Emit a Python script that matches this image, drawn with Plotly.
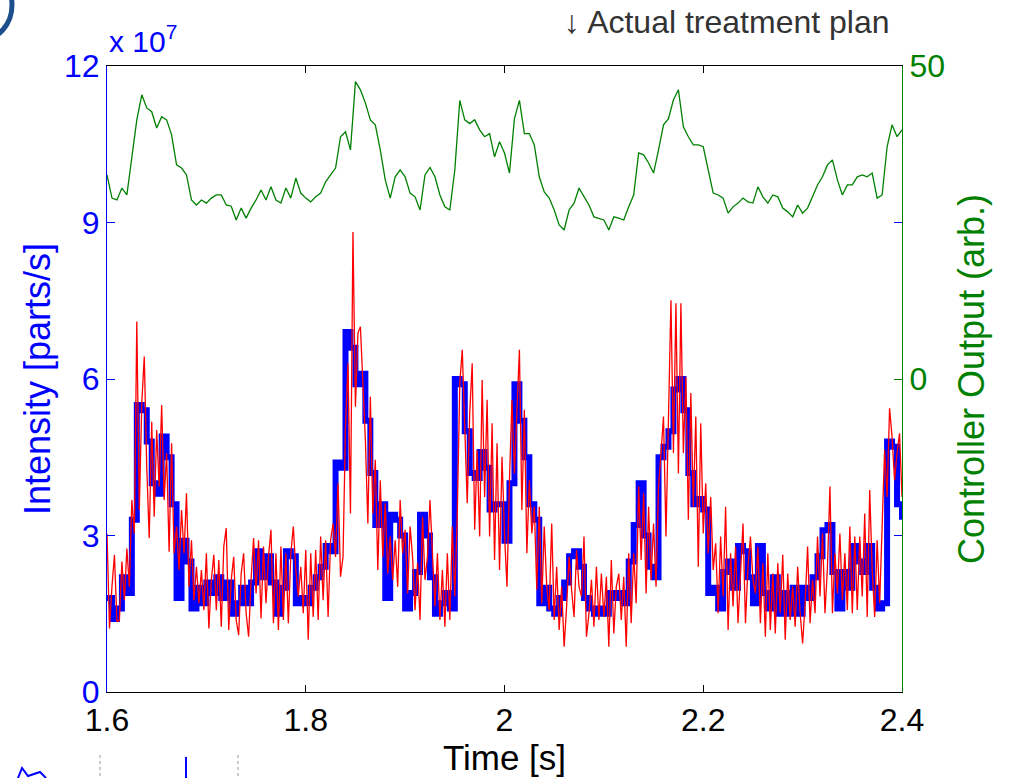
import numpy as np
import plotly.graph_objects as go

# ---------------- data ----------------
t_start = 1.6
dt_blue = 0.005   # s between intensity-plan steps
dt_red = 0.0025   # s between measured samples
dt_green = 0.005  # s between controller samples

# planned intensity, units of 1e7 parts/s
blue_intensity = [
    1.8, 1.4, 1.6, 2.2, 1.9, 3.3, 5.5, 5.4, 4.8, 4.0, 3.8, 4.9, 4.5, 3.6, 1.8, 2.9, 2.5,
    1.6, 2.0, 1.7, 2.1, 1.9, 2.2, 1.8, 2.1, 1.5, 1.7, 2.0, 1.7, 2.1, 2.7, 2.2, 2.6,
    2.1, 1.5, 2.0, 2.7, 2.6, 1.7, 1.8, 1.7, 2.0, 2.2, 2.4, 2.8, 2.7, 4.4, 4.3, 6.9,
    6.6, 5.9, 6.1, 5.2, 4.2, 3.2, 3.6, 1.8, 3.4, 3.3, 3.0, 1.6, 1.9, 2.3, 3.4, 3.0, 2.2,
    1.5, 1.7, 1.9, 1.6, 6.0, 5.9, 5.0, 4.2, 4.1, 4.6, 4.3, 3.5, 3.6, 3.6, 2.9, 4.0,
    5.9, 5.2, 4.5, 3.6, 3.3, 1.7, 2.0, 1.6, 1.5, 1.8, 2.1, 2.6, 2.7, 2.4, 1.8, 1.6, 1.5, 1.6,
    1.5, 1.9, 1.8, 1.9, 1.7, 2.5, 3.2, 4.0, 3.0, 2.4, 2.2, 4.5, 4.7, 5.0, 5.8, 6.0,
    5.4, 4.2, 3.6, 3.7, 3.5, 1.9, 2.0, 1.6, 2.3, 2.5, 2.0, 2.8, 2.7, 2.2, 1.7, 2.8, 1.9,
    1.6, 2.2, 1.5, 1.9, 1.5, 2.0, 1.5, 2.0, 1.8, 2.2, 2.6, 3.1, 3.2, 2.3, 1.6, 2.3,
    2.0, 2.8, 2.5, 2.3, 2.8, 2.0, 1.6, 1.7, 4.8, 4.7, 3.6, 3.3,
]

# measured intensity, units of 1e7 parts/s
red_intensity = [
    3.04, 1.22, 2.02, 2.63, 1.35, 1.38, 2.50, 1.76, 2.75, 2.02,
    3.68, 3.04, 7.10, 3.49, 5.53, 6.43, 4.32, 2.95, 5.18, 3.36,
    5.02, 3.94, 5.50, 3.68, 4.58, 2.69, 4.77, 2.66, 3.17, 2.34,
    3.49, 2.66, 3.81, 2.02, 2.91, 1.76, 2.40, 1.70, 2.34, 1.57,
    2.66, 1.22, 2.15, 2.63, 1.57, 2.53, 1.25, 2.79, 3.14, 1.19,
    2.15, 2.59, 1.38, 1.09, 2.27, 2.66, 1.51, 1.06, 2.15, 2.95,
    1.89, 2.91, 1.41, 2.79, 1.70, 2.59,
    3.11, 1.32, 2.66, 1.19, 2.79, 1.38, 2.66, 1.32, 2.66, 3.17,
    2.34, 1.83, 2.40, 1.51, 2.72, 1.00, 2.66, 1.44, 2.72, 1.38,
    2.98, 1.76, 2.91, 1.44, 2.91, 3.23, 2.59, 4.00, 2.21, 2.59,
    5.09, 6.30, 3.42, 8.82, 5.47, 6.88, 7.00, 5.79, 4.83, 3.23,
    5.66, 3.42, 4.45, 2.34, 4.06, 2.59, 3.62, 2.27, 2.98, 2.15,
    2.91, 2.02, 3.68, 2.66, 3.11, 1.89, 3.17, 2.59, 1.57, 2.47,
    1.38, 3.36, 2.15, 2.59, 3.68, 2.66,
    1.64, 2.66, 1.38, 2.34, 1.25, 2.66, 1.38, 3.17, 1.83, 3.42,
    5.92, 6.56, 5.09, 3.62, 5.34, 6.30, 3.11, 4.64, 2.98, 5.98,
    3.74, 5.60, 2.98, 5.15, 2.53, 4.77, 2.34, 4.51, 3.04, 2.02,
    4.06, 5.60, 4.19, 5.47, 6.56, 3.49, 5.41, 2.66, 4.06, 3.04,
    3.55, 1.96, 3.55, 1.70, 3.17, 2.02, 1.57, 3.23, 1.38, 2.40,
    1.19, 2.02, 0.87, 1.64, 2.59, 1.96, 1.44, 2.72, 2.02, 1.83,
    2.98, 1.06, 1.51, 2.15, 1.25, 2.40, 1.38,
    2.27, 1.44, 2.21, 0.87, 2.53, 1.12, 2.02, 2.27, 1.38, 2.21,
    0.87, 2.66, 1.32, 2.66, 1.70, 3.94, 2.53, 3.81, 1.89, 3.55,
    2.15, 3.23, 2.02, 3.94, 4.58, 5.28, 2.98, 5.22, 7.51, 4.58,
    7.45, 4.19, 7.45, 4.58, 6.04, 3.30, 5.73, 3.55, 5.28, 2.40,
    5.15, 3.04, 4.00, 2.66, 3.74, 2.34, 2.85, 1.51, 2.98, 1.83,
    3.55, 1.19, 2.66, 1.64, 2.79, 1.32, 2.40, 3.23, 1.32, 2.40,
    2.98, 2.15, 1.89, 2.79, 1.32, 2.47,
    1.06, 2.66, 1.19, 2.27, 1.12, 2.47, 1.51, 2.63, 1.00, 2.27,
    1.38, 2.02, 1.25, 2.40, 1.51, 0.93, 1.70, 2.79, 1.32, 2.15,
    1.51, 2.98, 1.83, 3.04, 1.51, 2.40, 3.94, 1.51, 2.66, 1.89,
    3.04, 1.76, 2.66, 1.57, 3.17, 1.51, 2.98, 1.57, 2.98, 1.83,
    3.42, 1.44, 3.87, 2.34, 1.44, 2.91, 1.70, 3.30, 4.64, 3.74,
    5.44, 4.89, 4.06, 4.58, 4.96, 3.74,
]

# controller output (arb.)
green_output = [
    32.6, 28.9, 28.6, 30.5, 29.4, 35.0, 41.4, 45.4, 43.3, 42.7, 40.1, 41.9, 41.4, 39.0,
    34.2, 33.7, 32.6, 28.6, 27.8, 28.6, 28.1, 28.9, 29.4, 29.4, 27.8, 27.6, 25.4, 27.3,
    25.7, 27.3, 28.6, 30.2, 28.6,
    30.7, 28.6, 28.1, 30.5, 28.9, 32.1, 29.7, 28.9, 28.3, 29.1, 29.7, 31.5, 32.6, 33.7,
    38.7, 39.5, 36.6, 47.5, 46.2, 44.1, 41.4, 40.6, 36.6, 31.8, 28.9, 32.3, 33.4, 32.3,
    29.7, 29.1, 27.0, 32.6, 33.8,
    32.3, 29.4, 27.5, 27.0, 33.4, 44.5, 41.4, 40.8, 41.4, 39.8, 38.7, 39.2, 35.5, 37.9,
    36.1, 32.9, 41.6, 44.5, 39.2, 39.2, 37.4, 32.3, 29.9, 28.9, 27.0, 24.6, 23.8, 27.0,
    28.1, 30.5, 29.1, 27.8, 25.9, 25.6,
    25.4, 23.8, 25.9, 25.7, 25.4, 27.5, 29.4, 36.1, 35.8, 34.5, 32.9, 36.6, 40.6, 41.6,
    44.6, 46.2, 40.3, 38.7, 37.4, 37.4, 37.1, 33.4, 29.7, 29.4, 28.9, 26.5, 27.5, 28.1,
    28.9, 28.3, 28.1, 30.7, 29.1,
    28.1, 29.4, 29.1, 27.3, 26.7, 25.9, 27.8, 26.5, 27.3, 29.1, 31.0, 32.3, 34.2, 35.0,
    31.8, 29.4, 31.0, 31.0, 32.3, 32.6, 32.3, 32.9, 28.9, 29.4, 37.1, 40.6, 38.7, 39.8,
]

x_tick_vals = [1.6, 1.8, 2.0, 2.2, 2.4]
x_tick_text = ["1.6", "1.8", "2", "2.2", "2.4"]
y_tick_vals = [0, 3, 6, 9, 12]
y_tick_text = ["0", "3", "6", "9", "12"]
y2_tick_vals = [0, 50]
y2_tick_text = ["0", "50"]

t_blue = t_start + dt_blue * np.arange(len(blue_intensity))
t_red = t_start + dt_red * np.arange(len(red_intensity))
t_green = t_start + dt_green * np.arange(len(green_output))

# ---------------- figure ----------------
BLUE = "#0000FF"
RED = "#FF0000"
GREEN = "#008000"
FONT = "Liberation Sans, Arial, Helvetica, sans-serif"

fig = go.Figure()
fig.add_trace(go.Scatter(x=t_blue, y=blue_intensity, mode="lines",
                         line=dict(color=BLUE, width=6, shape="hv"),
                         showlegend=False, hoverinfo="skip"))
fig.add_trace(go.Scatter(x=t_red, y=red_intensity, mode="lines",
                         line=dict(color=RED, width=1.3),
                         showlegend=False, hoverinfo="skip"))
fig.add_trace(go.Scatter(x=t_green, y=green_output, mode="lines", yaxis="y2",
                         line=dict(color=GREEN, width=1.3),
                         showlegend=False, hoverinfo="skip"))

W, H = 1011, 778
L, R, T, B = 107, 109, 66, 86
pw, ph = W - L - R, H - T - B


def px(x):
    return (x - L) / pw


def py(y):
    return (H - B - y) / ph


fig.update_layout(
    width=W, height=H,
    margin=dict(l=L, r=R, t=T, b=B, autoexpand=False),
    paper_bgcolor="white", plot_bgcolor="white",
    font=dict(family=FONT),
    xaxis=dict(range=[1.6, 2.4], tickvals=x_tick_vals, ticktext=x_tick_text,
               ticks="inside", ticklen=7, tickwidth=1, tickcolor="black",
               showline=True, linecolor="black", linewidth=1, mirror="ticks",
               showgrid=False, zeroline=False,
               tickfont=dict(size=32, color="black", family=FONT),
               title=dict(text="Time [s]", font=dict(size=35, color="black", family=FONT),
                          standoff=4)),
    yaxis=dict(range=[0, 12], tickvals=y_tick_vals, ticktext=y_tick_text,
               ticks="inside", ticklen=8, tickwidth=1, tickcolor=BLUE,
               showline=True, linecolor=BLUE, linewidth=1, mirror="ticks",
               showgrid=False, zeroline=False,
               tickfont=dict(size=32, color=BLUE, family=FONT),
               title=dict(text="Intensity [parts/s]", font=dict(size=36, color=BLUE, family=FONT),
                          standoff=2)),
    yaxis2=dict(range=[-50, 50], tickvals=y2_tick_vals, ticktext=y2_tick_text,
                overlaying="y", side="right",
                ticks="inside", ticklen=8, tickwidth=1, tickcolor=GREEN,
                showline=True, linecolor=GREEN, linewidth=1,
                showgrid=False, zeroline=False,
                tickfont=dict(size=32, color=GREEN, family=FONT),
                title=dict(text="Controller Output (arb.)", font=dict(size=36, color=GREEN, family=FONT),
                           standoff=14)),
)

fig.add_annotation(xref="paper", yref="paper", x=0.0, y=py(60), xanchor="left", yanchor="bottom",
                   text="x 10<sup>7</sup>", showarrow=False,
                   font=dict(size=30, color=BLUE, family=FONT))
fig.add_annotation(xref="paper", yref="paper", x=px(892), y=py(22), xanchor="right", yanchor="middle",
                   text="↓ Actual treatment plan", showarrow=False,
                   font=dict(size=32, color="#333333", family=FONT))

# slide fragments around the chart
fig.add_shape(type="circle", xref="paper", yref="paper",
              x0=px(-50), x1=px(12), y0=py(40), y1=py(-30),
              line=dict(color="#1d4f8c", width=5))
for xx in (100, 238):
    fig.add_shape(type="line", xref="paper", yref="paper",
                  x0=px(xx), x1=px(xx), y0=py(755), y1=py(778),
                  line=dict(color="#999999", width=1, dash="dot"))
fig.add_shape(type="line", xref="paper", yref="paper",
              x0=px(186), x1=px(186), y0=py(757), y1=py(778),
              line=dict(color=BLUE, width=2))
fig.add_shape(type="path", xref="paper", yref="paper",
              path=f"M {px(18)} {py(778)} L {px(22)} {py(768)} L {px(28)} {py(776)} L {px(40)} {py(772)} L {px(46)} {py(778)}",
              line=dict(color=BLUE, width=2))

fig.write_html("out.html")
